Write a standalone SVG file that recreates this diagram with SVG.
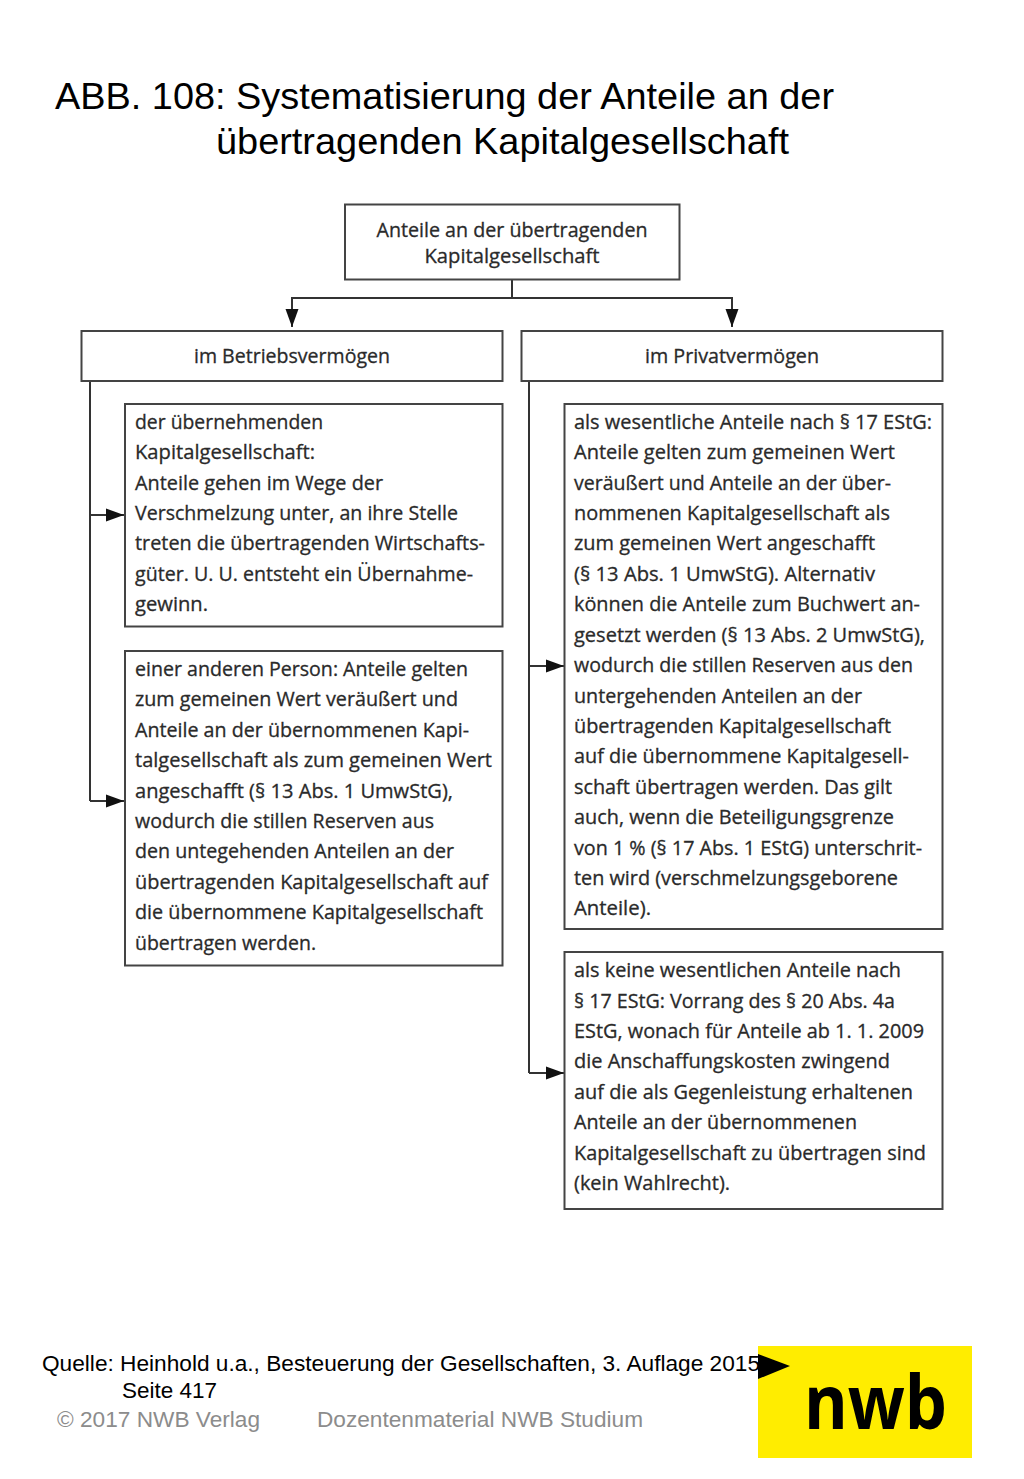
<svg xmlns="http://www.w3.org/2000/svg" width="1024" height="1479" viewBox="0 0 1024 1479">
<style>
.box{fill:#fff;stroke:#444;stroke-width:2}
.c{fill:none;stroke:#333;stroke-width:2}
.t{font-family:"Open Sans","Noto Sans",sans-serif;font-size:20px;fill:#2a2a2a;stroke:#2a2a2a;stroke-width:.3}
.m{text-anchor:middle}
.h{font-family:"Liberation Sans",Arial,sans-serif;font-size:37px;fill:#000}
.f{font-family:"Liberation Sans",Arial,sans-serif;font-size:22px;fill:#000}
.g{fill:#8c8c8c}
</style>
<defs>
<marker id="arr" markerUnits="userSpaceOnUse" markerWidth="20" markerHeight="16" refX="18" refY="7" orient="auto"><path d="M0,0.500 L18,7 L0,13.500 Z" fill="#111"/></marker>
</defs>
<rect width="1024" height="1479" fill="#fff"/>
<g id="title">
<text class="h" x="55" y="109" textLength="779" lengthAdjust="spacingAndGlyphs">ABB. 108: Systematisierung der Anteile an der</text>
<text class="h" x="216" y="154" textLength="573" lengthAdjust="spacingAndGlyphs">übertragenden Kapitalgesellschaft</text>
</g>
<g id="connectors">
<path class="c" d="M512,280 V298"/>
<path class="c" d="M512,298 H292 V327" marker-end="url(#arr)"/>
<path class="c" d="M512,298 H732 V327" marker-end="url(#arr)"/>
<path class="c" d="M90,381 V801"/>
<path class="c" d="M90,515 H124" marker-end="url(#arr)"/>
<path class="c" d="M90,801 H124" marker-end="url(#arr)"/>
<path class="c" d="M529,381 V1073"/>
<path class="c" d="M529,666 H564" marker-end="url(#arr)"/>
<path class="c" d="M529,1073 H564" marker-end="url(#arr)"/>
</g>
<g id="root"><rect class="box" x="345" y="204.500" width="334.500" height="75"/>
<text class="t m" x="512" y="237" textLength="271" lengthAdjust="spacingAndGlyphs">Anteile an der übertragenden</text>
<text class="t m" x="512" y="263" textLength="175" lengthAdjust="spacingAndGlyphs">Kapitalgesellschaft</text></g>
<g id="betrieb"><rect class="box" x="81.500" y="331" width="421" height="50"/>
<text class="t m" x="292" y="363" textLength="196" lengthAdjust="spacingAndGlyphs">im Betriebsvermögen</text></g>
<g id="privat"><rect class="box" x="521.500" y="331" width="421" height="50"/>
<text class="t m" x="732" y="363" textLength="174" lengthAdjust="spacingAndGlyphs">im Privatvermögen</text></g>
<g id="left1"><rect class="box" x="125" y="404" width="377.500" height="222.500"/>
<text class="t" x="135" y="429" textLength="188" lengthAdjust="spacingAndGlyphs">der übernehmenden</text>
<text class="t" x="135" y="459" textLength="180" lengthAdjust="spacingAndGlyphs">Kapitalgesellschaft:</text>
<text class="t" x="135" y="490" textLength="248" lengthAdjust="spacingAndGlyphs">Anteile gehen im Wege der</text>
<text class="t" x="135" y="520" textLength="323" lengthAdjust="spacingAndGlyphs">Verschmelzung unter, an ihre Stelle</text>
<text class="t" x="135" y="550" textLength="350" lengthAdjust="spacingAndGlyphs">treten die übertragenden Wirtschafts-</text>
<text class="t" x="135" y="581" textLength="338" lengthAdjust="spacingAndGlyphs">güter. U. U. entsteht ein Übernahme-</text>
<text class="t" x="135" y="611" textLength="73" lengthAdjust="spacingAndGlyphs">gewinn.</text></g>
<g id="left2"><rect class="box" x="125" y="651" width="377.500" height="314.500"/>
<text class="t" x="135" y="676" textLength="333" lengthAdjust="spacingAndGlyphs">einer anderen Person: Anteile gelten</text>
<text class="t" x="135" y="706" textLength="323" lengthAdjust="spacingAndGlyphs">zum gemeinen Wert veräußert und</text>
<text class="t" x="135" y="737" textLength="334" lengthAdjust="spacingAndGlyphs">Anteile an der übernommenen Kapi-</text>
<text class="t" x="135" y="767" textLength="357" lengthAdjust="spacingAndGlyphs">talgesellschaft als zum gemeinen Wert</text>
<text class="t" x="135" y="798" textLength="318" lengthAdjust="spacingAndGlyphs">angeschafft (§ 13 Abs. 1 UmwStG),</text>
<text class="t" x="135" y="828" textLength="299" lengthAdjust="spacingAndGlyphs">wodurch die stillen Reserven aus</text>
<text class="t" x="135" y="858" textLength="319" lengthAdjust="spacingAndGlyphs">den untegehenden Anteilen an der</text>
<text class="t" x="135" y="889" textLength="353" lengthAdjust="spacingAndGlyphs">übertragenden Kapitalgesellschaft auf</text>
<text class="t" x="135" y="919" textLength="348" lengthAdjust="spacingAndGlyphs">die übernommene Kapitalgesellschaft</text>
<text class="t" x="135" y="950" textLength="181" lengthAdjust="spacingAndGlyphs">übertragen werden.</text></g>
<g id="right1"><rect class="box" x="564.500" y="404" width="378" height="525"/>
<text class="t" x="574" y="429" textLength="358" lengthAdjust="spacingAndGlyphs">als wesentliche Anteile nach § 17 EStG:</text>
<text class="t" x="574" y="459" textLength="321" lengthAdjust="spacingAndGlyphs">Anteile gelten zum gemeinen Wert</text>
<text class="t" x="574" y="490" textLength="317" lengthAdjust="spacingAndGlyphs">veräußert und Anteile an der über-</text>
<text class="t" x="574" y="520" textLength="316" lengthAdjust="spacingAndGlyphs">nommenen Kapitalgesellschaft als</text>
<text class="t" x="574" y="550" textLength="301" lengthAdjust="spacingAndGlyphs">zum gemeinen Wert angeschafft</text>
<text class="t" x="574" y="581" textLength="301" lengthAdjust="spacingAndGlyphs">(§ 13 Abs. 1 UmwStG). Alternativ</text>
<text class="t" x="574" y="611" textLength="346" lengthAdjust="spacingAndGlyphs">können die Anteile zum Buchwert an-</text>
<text class="t" x="574" y="642" textLength="351" lengthAdjust="spacingAndGlyphs">gesetzt werden (§ 13 Abs. 2 UmwStG),</text>
<text class="t" x="574" y="672" textLength="339" lengthAdjust="spacingAndGlyphs">wodurch die stillen Reserven aus den</text>
<text class="t" x="574" y="703" textLength="288" lengthAdjust="spacingAndGlyphs">untergehenden Anteilen an der</text>
<text class="t" x="574" y="733" textLength="317" lengthAdjust="spacingAndGlyphs">übertragenden Kapitalgesellschaft</text>
<text class="t" x="574" y="763" textLength="335" lengthAdjust="spacingAndGlyphs">auf die übernommene Kapitalgesell-</text>
<text class="t" x="574" y="794" textLength="318" lengthAdjust="spacingAndGlyphs">schaft übertragen werden. Das gilt</text>
<text class="t" x="574" y="824" textLength="320" lengthAdjust="spacingAndGlyphs">auch, wenn die Beteiligungsgrenze</text>
<text class="t" x="574" y="855" textLength="348" lengthAdjust="spacingAndGlyphs">von 1 % (§ 17 Abs. 1 EStG) unterschrit-</text>
<text class="t" x="574" y="885" textLength="324" lengthAdjust="spacingAndGlyphs">ten wird (verschmelzungsgeborene</text>
<text class="t" x="574" y="915" textLength="77" lengthAdjust="spacingAndGlyphs">Anteile).</text></g>
<g id="right2"><rect class="box" x="564.500" y="952" width="378" height="257"/>
<text class="t" x="574" y="977" textLength="327" lengthAdjust="spacingAndGlyphs">als keine wesentlichen Anteile nach</text>
<text class="t" x="574" y="1008" textLength="321" lengthAdjust="spacingAndGlyphs">§ 17 EStG: Vorrang des § 20 Abs. 4a</text>
<text class="t" x="574" y="1038" textLength="350" lengthAdjust="spacingAndGlyphs">EStG, wonach für Anteile ab 1. 1. 2009</text>
<text class="t" x="574" y="1068" textLength="316" lengthAdjust="spacingAndGlyphs">die Anschaffungskosten zwingend</text>
<text class="t" x="574" y="1099" textLength="339" lengthAdjust="spacingAndGlyphs">auf die als Gegenleistung erhaltenen</text>
<text class="t" x="574" y="1129" textLength="283" lengthAdjust="spacingAndGlyphs">Anteile an der übernommenen</text>
<text class="t" x="574" y="1160" textLength="352" lengthAdjust="spacingAndGlyphs">Kapitalgesellschaft zu übertragen sind</text>
<text class="t" x="574" y="1190" textLength="156" lengthAdjust="spacingAndGlyphs">(kein Wahlrecht).</text></g>
<g id="logo"><rect x="758" y="1346" width="214" height="112" fill="#ffed00"/>
<path d="M758,1354 L790,1366 L758,1379 Z" fill="#000"/>
<text x="804" y="1429" font-family="'Open Sans','Noto Sans',sans-serif" font-weight="700" font-size="76" fill="#000" textLength="143" lengthAdjust="spacingAndGlyphs">nwb</text></g>
<g id="footer">
<text class="f" x="42" y="1371" textLength="718" lengthAdjust="spacingAndGlyphs">Quelle: Heinhold u.a., Besteuerung der Gesellschaften, 3. Auflage 2015</text>
<text class="f" x="122" y="1398" textLength="95" lengthAdjust="spacingAndGlyphs">Seite 417</text>
<text class="f g" x="57" y="1427" textLength="203" lengthAdjust="spacingAndGlyphs">© 2017 NWB Verlag</text>
<text class="f g" x="317" y="1427" textLength="326" lengthAdjust="spacingAndGlyphs">Dozentenmaterial NWB Studium</text>
</g>
</svg>
